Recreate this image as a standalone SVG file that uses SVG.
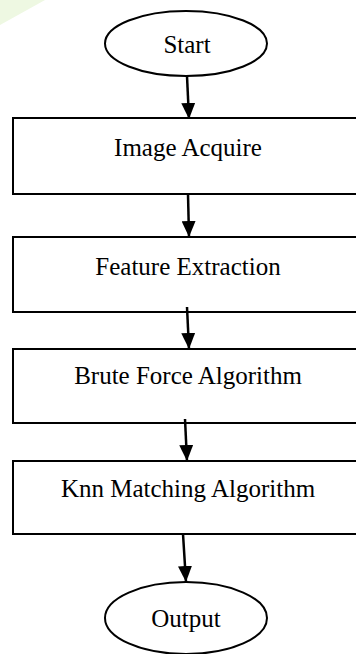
<svg xmlns="http://www.w3.org/2000/svg" width="356" height="654" viewBox="0 0 356 654">
  <style>
    .shape { fill: #ffffff; stroke: #000000; stroke-width: 2; }
    .label { font-family: "Liberation Serif", "Times New Roman", serif; font-size: 25px; fill: #000000; text-anchor: middle; }
    .link { stroke: #000000; stroke-width: 2.5; fill: none; }
  </style>
  <defs>
    <marker id="arrow" viewBox="0 0 16 14" refX="16" refY="7" markerWidth="16" markerHeight="14" markerUnits="userSpaceOnUse" orient="auto">
      <path d="M0,0 L16,7 L0,14 Z" fill="#000000"/>
    </marker>
  </defs>

  <rect width="356" height="654" fill="#ffffff"/>
  <!-- faint green corner mark -->
  <polygon points="0,0 45,0 0,25" fill="#eef8e2"/>

  <g id="start">
    <ellipse class="shape" cx="186" cy="43.5" rx="81" ry="32.5"/>
    <text class="label" x="187" y="53">Start</text>
  </g>

  <g id="image-acquire">
    <rect class="shape" x="13" y="118" width="360" height="76"/>
    <text class="label" x="188" y="156">Image Acquire</text>
  </g>

  <g id="feature-extraction">
    <rect class="shape" x="13" y="237" width="360" height="75"/>
    <text class="label" x="188" y="275">Feature Extraction</text>
  </g>

  <g id="brute-force">
    <rect class="shape" x="13" y="349" width="360" height="74"/>
    <text class="label" x="188" y="384">Brute Force Algorithm</text>
  </g>

  <g id="knn-matching">
    <rect class="shape" x="13" y="461" width="360" height="73"/>
    <text class="label" x="188" y="497">Knn Matching Algorithm</text>
  </g>

  <g id="output">
    <ellipse class="shape" cx="186" cy="618" rx="81" ry="36"/>
    <text class="label" x="186" y="627">Output</text>
  </g>

  <g id="connectors">
    <line class="link" x1="187" y1="76" x2="189" y2="119" marker-end="url(#arrow)"/>
    <line class="link" x1="188" y1="194" x2="189" y2="237" marker-end="url(#arrow)"/>
    <line class="link" x1="187" y1="307" x2="189" y2="349" marker-end="url(#arrow)"/>
    <line class="link" x1="185" y1="419" x2="187" y2="461" marker-end="url(#arrow)"/>
    <line class="link" x1="183" y1="534" x2="186" y2="582" marker-end="url(#arrow)"/>
  </g>
</svg>
